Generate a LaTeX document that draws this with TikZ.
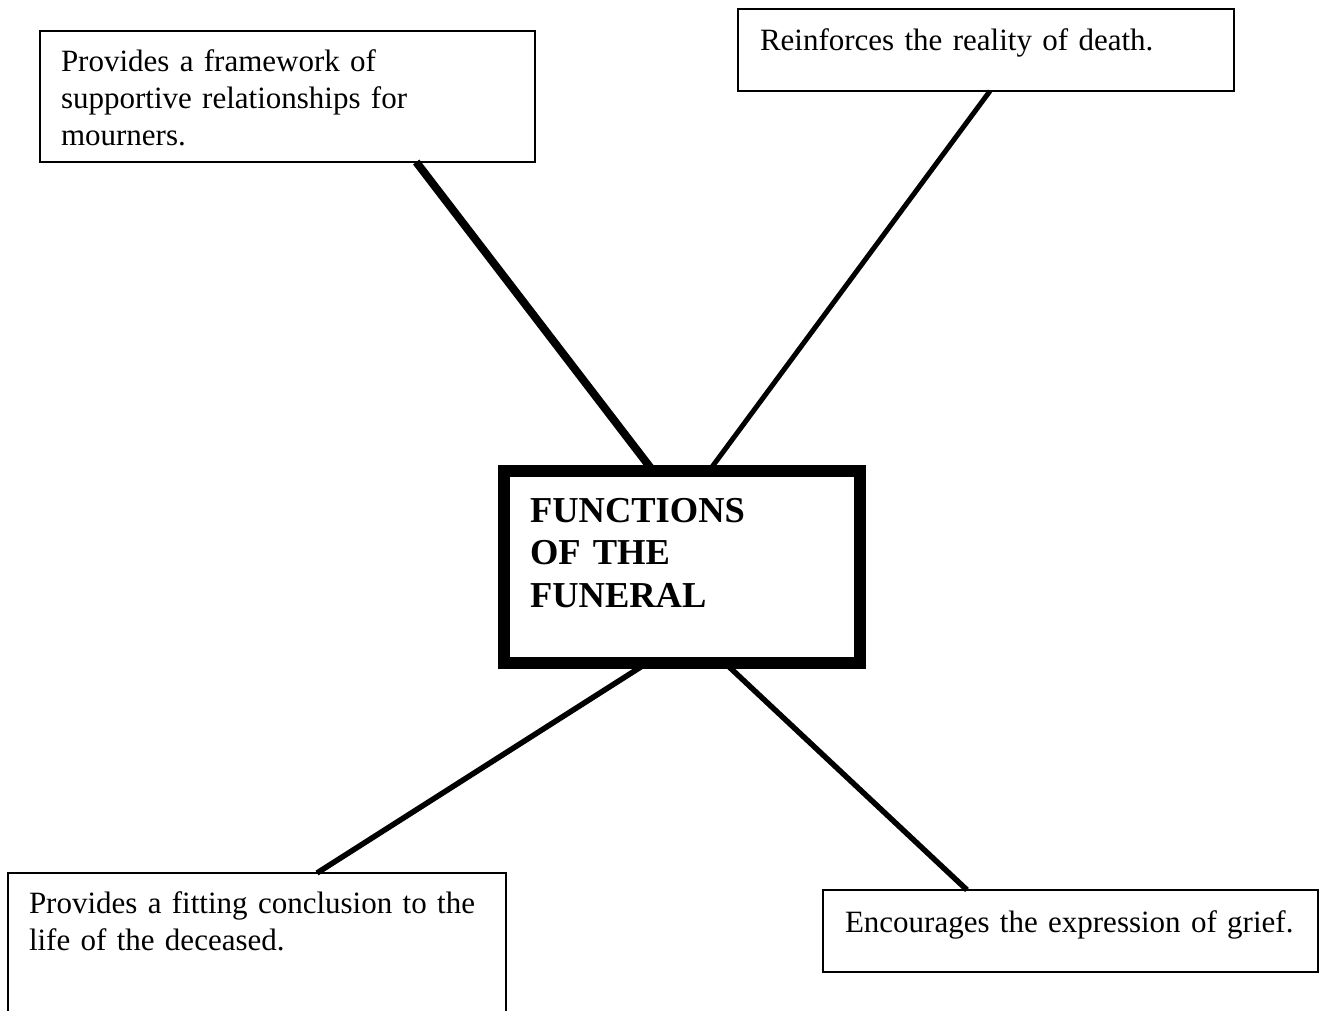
\documentclass[tikz,border=0pt]{standalone}
\usepackage{fontspec}
\setmainfont{Liberation Serif}
\usetikzlibrary{calc}
\begin{document}
\begin{tikzpicture}[x=1pt,y=-1pt,
  box/.style={draw, line width=2pt, rectangle, outer sep=0pt, inner ysep=0pt,
    align=left, anchor=north west, font=\fontsize{31}{37}\selectfont},
  hub/.style={draw, line width=12pt, fill=white, rectangle, outer sep=0pt, inner ysep=0pt,
    align=left, anchor=north west, font=\bfseries\fontsize{36.5}{42.5}\selectfont},
  link/.style={line width=5pt}]
\useasboundingbox (0,0) rectangle (1319,1010);
\fill[white] (0,0) rectangle (1319,1010);

\node[box, inner xsep=21pt, text width=453pt, text height=40pt, text depth=91pt] (b1) at (40,31)
  {\mbox{Provides a framework of}\\ \mbox{supportive relationships for}\\ \mbox{mourners.}};
\node[box, inner xsep=22pt, text width=452pt, text height=41pt, text depth=41pt] (b2) at (738,9)
  {\mbox{Reinforces the reality of death.}};
\node[box, inner xsep=21pt, text width=456pt, text height=40pt, text depth=160pt] (b4) at (8,873)
  {\mbox{Provides a fitting conclusion to the}\\ \mbox{life of the deceased.}};
\node[box, inner xsep=22pt, text width=451pt, text height=42pt, text depth=40pt] (b5) at (823,890)
  {\mbox{Encourages the expression of grief.}};

\path (504,471) coordinate (hubnw);
\draw[link, line width=8pt] ($(b1.south west)!0.76!(b1.south east)$) -- (653,471) coordinate (t1);
\draw[link] ($(b2.south west)!0.508!(b2.south east)$) -- (709,471) coordinate (t2);
\draw[link, line width=5.5pt] ($(b4.north west)!0.6205!(b4.north east)$) -- (647,663) coordinate (t3);
\draw[link, line width=5.5pt] ($(b5.north west)!0.291!(b5.north east)$) -- (725,663) coordinate (t4);

\node[hub, inner xsep=26pt, text width=304pt, text height=51pt, text depth=141pt] (hub) at (hubnw)
  {FUNCTIONS\\ OF THE\\ FUNERAL};
\end{tikzpicture}
\end{document}
